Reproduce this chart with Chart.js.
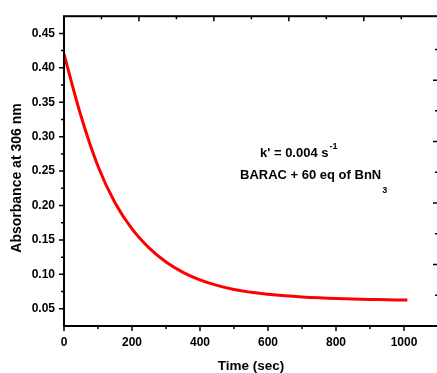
<!DOCTYPE html>
<html>
<head>
<meta charset="utf-8">
<script src="https://cdn.jsdelivr.net/npm/chart.js@4"></script>
<style>
  html, body { margin: 0; padding: 0; background: #fff; overflow: hidden; }
  #wrap { width: 440px; height: 373px; }
</style>
</head>
<body>
<div id="wrap"><canvas id="kinetics" width="440" height="373"></canvas></div>
<script>
// values
const times = [0, 50, 100, 150, 200, 250, 300, 350, 400, 450, 500, 550, 600, 650, 700, 750, 800, 850, 900, 950, 1010];
const absorbance = [0.420, 0.330, 0.257, 0.204, 0.166, 0.1385, 0.118, 0.103, 0.092, 0.084, 0.078, 0.0740, 0.0712, 0.069, 0.0673, 0.066, 0.065, 0.0642, 0.0636, 0.0631, 0.0626];

const xTicks = [0, 200, 400, 600, 800, 1000];
const xMinorTicks = [100, 300, 500, 700, 900];
const yTicks = [0.05, 0.10, 0.15, 0.20, 0.25, 0.30, 0.35, 0.40, 0.45];
const yMinorTicks = [0.075, 0.125, 0.175, 0.225, 0.275, 0.325, 0.375, 0.425];
// top and right frame edges carry their own tick spacing
const frameTicks = [1, 2, 3, 4];
const frameMinorTicks = [0.5, 1.5, 2.5, 3.5, 4.5];

const FONT = "'Liberation Sans', Arial, sans-serif";
Chart.defaults.font.family = FONT;
Chart.defaults.color = '#000';

// frame, ticks and text labels
const framePlugin = {
  id: 'framePlugin',
  afterDraw(chart) {
    const { ctx, chartArea: a } = chart;
    const { x, y, x2, y2 } = chart.scales;
    ctx.save();
    ctx.strokeStyle = '#000';
    ctx.lineWidth = 2;
    ctx.strokeRect(a.left, a.top, a.right - a.left, a.bottom - a.top);

    ctx.lineWidth = 1.5;
    ctx.beginPath();
    const tick = (x1, y1, xe, ye) => { ctx.moveTo(x1, y1); ctx.lineTo(xe, ye); };
    yTicks.forEach(v => { const p = y.getPixelForValue(v); tick(a.left - 5, p, a.left, p); });
    yMinorTicks.forEach(v => { const p = y.getPixelForValue(v); tick(a.left - 3, p, a.left, p); });
    xTicks.forEach(v => { const p = x.getPixelForValue(v); tick(p, a.bottom, p, a.bottom + 5); });
    xMinorTicks.forEach(v => { const p = x.getPixelForValue(v); tick(p, a.bottom, p, a.bottom + 3); });
    frameTicks.forEach(v => {
      const px = x2.getPixelForValue(v);
      tick(px, a.top, px, a.top + 5);
      const py = y2.getPixelForValue(v);
      tick(a.right - 5, py, a.right, py);
    });
    frameMinorTicks.forEach(v => {
      const px = x2.getPixelForValue(v);
      tick(px, a.top, px, a.top + 3);
      const py = y2.getPixelForValue(v);
      tick(a.right - 3, py, a.right, py);
    });
    ctx.stroke();

    // y axis title
    ctx.fillStyle = '#000';
    ctx.font = 'bold 14px ' + FONT;
    ctx.textAlign = 'center';
    ctx.textBaseline = 'middle';
    ctx.save();
    ctx.translate(17.5, 178);
    ctx.rotate(-Math.PI / 2);
    ctx.fillText('Absorbance at 306 nm', 0, 0);
    ctx.restore();

    // annotation
    ctx.textAlign = 'left';
    ctx.textBaseline = 'alphabetic';
    ctx.font = 'bold 13px ' + FONT;
    const k = "k' = 0.004 s";
    ctx.fillText(k, 260, 157);
    const kw = ctx.measureText(k).width;
    const b = 'BARAC + 60 eq of BnN';
    ctx.fillText(b, 240, 179);
    const bw = ctx.measureText(b).width;
    ctx.font = 'bold 9px ' + FONT;
    ctx.fillText('-1', 260 + kw + 1, 149);
    ctx.fillText('3', 240 + bw + 1, 192.5);
    ctx.restore();
  }
};

new Chart(document.getElementById('kinetics'), {
  type: 'line',
  data: {
    datasets: [{
      data: times.map((t, i) => ({ x: t, y: absorbance[i] })),
      borderColor: '#ff0000',
      borderWidth: 3,
      pointRadius: 0,
      fill: false,
      tension: 0.4
    }]
  },
  options: {
    responsive: false,
    animation: false,
    devicePixelRatio: 1,
    layout: { padding: { top: 12, right: 2, left: 0, bottom: 0 } },
    plugins: { legend: { display: false }, tooltip: { enabled: false } },
    scales: {
      x: {
        type: 'linear',
        min: 0,
        max: 1100,
        afterFit: s => { s.height = 47; },
        afterBuildTicks: s => { s.ticks = xTicks.map(v => ({ value: v })); },
        grid: { display: false, drawTicks: false },
        border: { display: false },
        ticks: {
          padding: 9,
          font: { size: 12, weight: 'bold' },
          maxRotation: 0,
          callback: v => String(v)
        },
        title: {
          display: true,
          text: 'Time (sec)',
          font: { size: 13.5, weight: 'bold', lineHeight: 1 },
          padding: 0
        }
      },
      y: {
        min: 0.025,
        max: 0.475,
        afterFit: s => { s.width = 64; },
        afterBuildTicks: s => { s.ticks = yTicks.map(v => ({ value: v })); },
        grid: { display: false, drawTicks: false },
        border: { display: false },
        ticks: {
          padding: 9,
          font: { size: 12, weight: 'bold' },
          callback: v => v.toFixed(2)
        }
      },
      x2: {
        type: 'linear',
        position: 'top',
        display: false,
        min: 0,
        max: 4.99
      },
      y2: {
        position: 'right',
        display: false,
        min: 0,
        max: 5.04
      }
    }
  },
  plugins: [framePlugin]
});
</script>
</body>
</html>
